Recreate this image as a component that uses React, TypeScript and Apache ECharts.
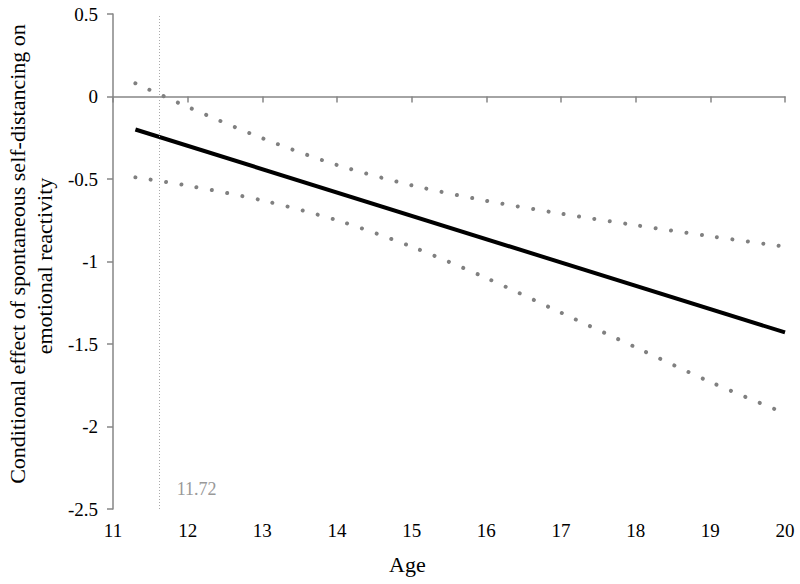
import React, { useEffect, useRef } from "react";
import * as echarts from "echarts";

// Age values (x) and estimates
const effectAges = [11.3, 20];
const effectValues = [-0.2, -1.43];

const bandAges = [11.3, 12, 13, 14, 15, 16, 17, 18, 19, 20];
const upperValues = [0.08, -0.063, -0.253, -0.415, -0.538, -0.632, -0.71, -0.78, -0.847, -0.91];
const lowerValues = [-0.49, -0.54, -0.63, -0.75, -0.91, -1.1, -1.31, -1.52, -1.73, -1.92];

const jnLinePosition = 11.62;
const jnLabel = "11.72";
const jnLabelPos = [12.12, -2.376];

const yTitleLines = ["Conditional effect of spontaneous self-distancing on", "emotional reactivity"];
const xTitle = "Age";

const FONT = "Liberation Serif";

export default function App() {
  const ref = useRef<HTMLDivElement>(null);
  useEffect(() => {
    if (!ref.current) return;
    const chart = echarts.init(ref.current, null, { renderer: "svg" });
    const pair = (xs: number[], ys: number[]) => xs.map((x, i) => [x, ys[i]]);
    const dotStyle = {
      color: "#808080",
      width: 4,
      type: [0.01, 15.5] as any,
      cap: "round" as const,
    };
    chart.setOption({
      animation: false,
      backgroundColor: "#ffffff",
      textStyle: { fontFamily: FONT },
      grid: {
        left: 113,
        right: 15,
        top: 14,
        bottom: 75,
        containLabel: false,
        outerBoundsMode: "none",
      },
      xAxis: {
        type: "value",
        min: 11,
        max: 20,
        interval: 1,
        splitLine: { show: false },
        axisLine: { show: true, lineStyle: { color: "#868686", width: 1.5 } },
        axisTick: { show: true, length: 6, lineStyle: { color: "#868686", width: 1.5 } },
        axisLabel: { color: "#000", fontFamily: FONT, fontSize: 19, margin: 12 },
      },
      yAxis: {
        type: "value",
        min: -2.5,
        max: 0.5,
        interval: 0.5,
        splitLine: { show: false },
        axisLine: { show: true, lineStyle: { color: "#868686", width: 1.5 } },
        axisTick: { show: true, length: 6, lineStyle: { color: "#868686", width: 1.5 } },
        axisLabel: { color: "#000", fontFamily: FONT, fontSize: 19, margin: 15 },
      },
      graphic: [
        {
          type: "text",
          x: 17,
          y: 254,
          rotation: Math.PI / 2,
          style: {
            text: yTitleLines[0],
            fill: "#000",
            font: `22px ${FONT}`,
            align: "center",
            verticalAlign: "middle",
          },
        },
        {
          type: "text",
          x: 44,
          y: 266,
          rotation: Math.PI / 2,
          style: {
            text: yTitleLines[1],
            fill: "#000",
            font: `22px ${FONT}`,
            align: "center",
            verticalAlign: "middle",
          },
        },
        {
          type: "text",
          left: 389,
          top: 553,
          style: { text: xTitle, fill: "#000", font: `22px ${FONT}` },
        },
      ],
      series: [
        {
          type: "line",
          data: pair(bandAges, upperValues),
          smooth: 0.3,
          symbol: "none",
          lineStyle: dotStyle,
          z: 2,
        },
        {
          type: "line",
          data: pair(bandAges, lowerValues),
          smooth: 0.3,
          symbol: "none",
          lineStyle: dotStyle,
          z: 2,
        },
        {
          type: "line",
          data: pair(effectAges, effectValues),
          symbol: "none",
          lineStyle: { color: "#000", width: 4 },
          z: 3,
          markLine: {
            silent: true,
            symbol: "none",
            label: { show: false },
            lineStyle: { color: "#aaaaaa", width: 1, type: [1, 2] as any },
            data: [{ xAxis: jnLinePosition }],
          },
          markPoint: {
            silent: true,
            symbol: "circle",
            symbolSize: 0,
            label: {
              show: true,
              formatter: jnLabel,
              color: "#999999",
              fontFamily: FONT,
              fontSize: 18,
              position: "inside",
            },
            data: [{ coord: jnLabelPos }],
          },
        },
      ],
    });
    return () => chart.dispose();
  }, []);
  return <div ref={ref} style={{ width: 800, height: 584, position: "absolute", left: 0, top: 0 }} />;
}
